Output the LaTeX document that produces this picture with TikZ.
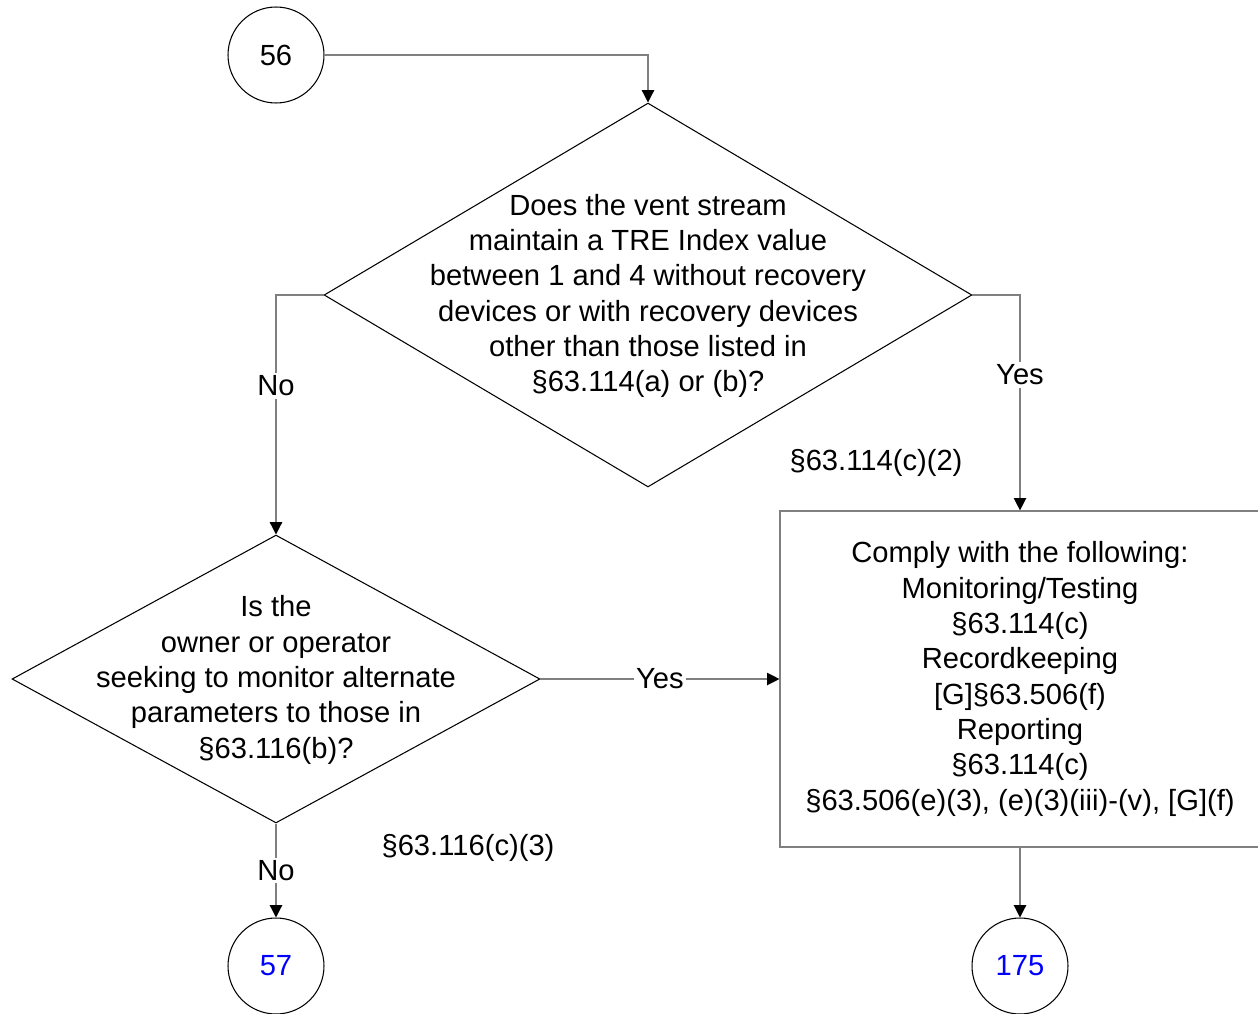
\documentclass[tikz,border=0pt]{standalone}
\usepackage{fontspec}
\setmainfont{Liberation Sans}
\usetikzlibrary{shapes.geometric,arrows.meta}
\tikzset{
  every node/.style={font=\fontsize{16.6}{20.1}\selectfont},
  term/.style={circle,draw,line width=0.6pt,minimum size=1.92cm,inner sep=0pt},
  decision/.style={diamond,draw,line width=0.6pt,inner sep=0pt},
  action/.style={rectangle,draw=gray,line width=0.7pt,inner sep=0pt,align=center},
  link/.style={draw=gray,line width=0.7pt,-{Triangle[length=7pt,width=7pt,color=black]}},
  lbl/.style={fill=white,inner sep=1.5pt}
}

\begin{document}
\begin{tikzpicture}[x=0.02cm,y=-0.02cm]
  \useasboundingbox (0,0) rectangle (1258,1014);
  % start
  \node[term] (c56) at (276,55) {56};
  % first question
  \node[decision,minimum width=12.96cm,minimum height=7.68cm] (q1) at (648,295) {};
  \node[align=center] (q1txt) at (648,296) {Does the vent stream\\ maintain a TRE Index value\\ between 1 and 4 without recovery\\ devices or with recovery devices\\ other than those listed in\\ §63.114(a) or (b)?};
  % second question
  \node[decision,minimum width=10.56cm,minimum height=5.76cm] (q2) at (276,679) {};
  \node[align=center] (q2txt) at (276,680) {Is the\\ owner or operator\\ seeking to monitor alternate\\ parameters to those in\\ §63.116(b)?};
  % requirements
  \node[action,minimum width=9.6cm,minimum height=6.72cm] (reqs) at (1020,679) {Comply with the following:\\ Monitoring/Testing\\ §63.114(c)\\ Recordkeeping\\ {[G]}§63.506(f)\\ Reporting\\ §63.114(c)\\ §63.506(e)(3), (e)(3)(iii)-(v), [G](f)};
  % exits
  \node[term,text=blue] (c57) at (276,966) {57};
  \node[term,text=blue] (c175) at (1020,966) {175};
  % citations
  \node (cite1) at (876,463) {§63.114(c)(2)};
  \node (cite2) at (468,848) {§63.116(c)(3)};
  % connectors
  \draw[link] (c56.east) -| (q1.north);
  \draw[link] (q1.west) -| node[lbl,pos=0.69]{No} (q2.north);
  \draw[link] (q1.east) -| node[lbl,pos=0.685]{Yes} (reqs.north);
  \draw[link] (q2.east) -- node[lbl]{Yes} (reqs.west);
  \draw[link] (q2.south) -- node[lbl]{No} (c57.north);
  \draw[link] (reqs.south) -- (c175.north);
\end{tikzpicture}
\end{document}
